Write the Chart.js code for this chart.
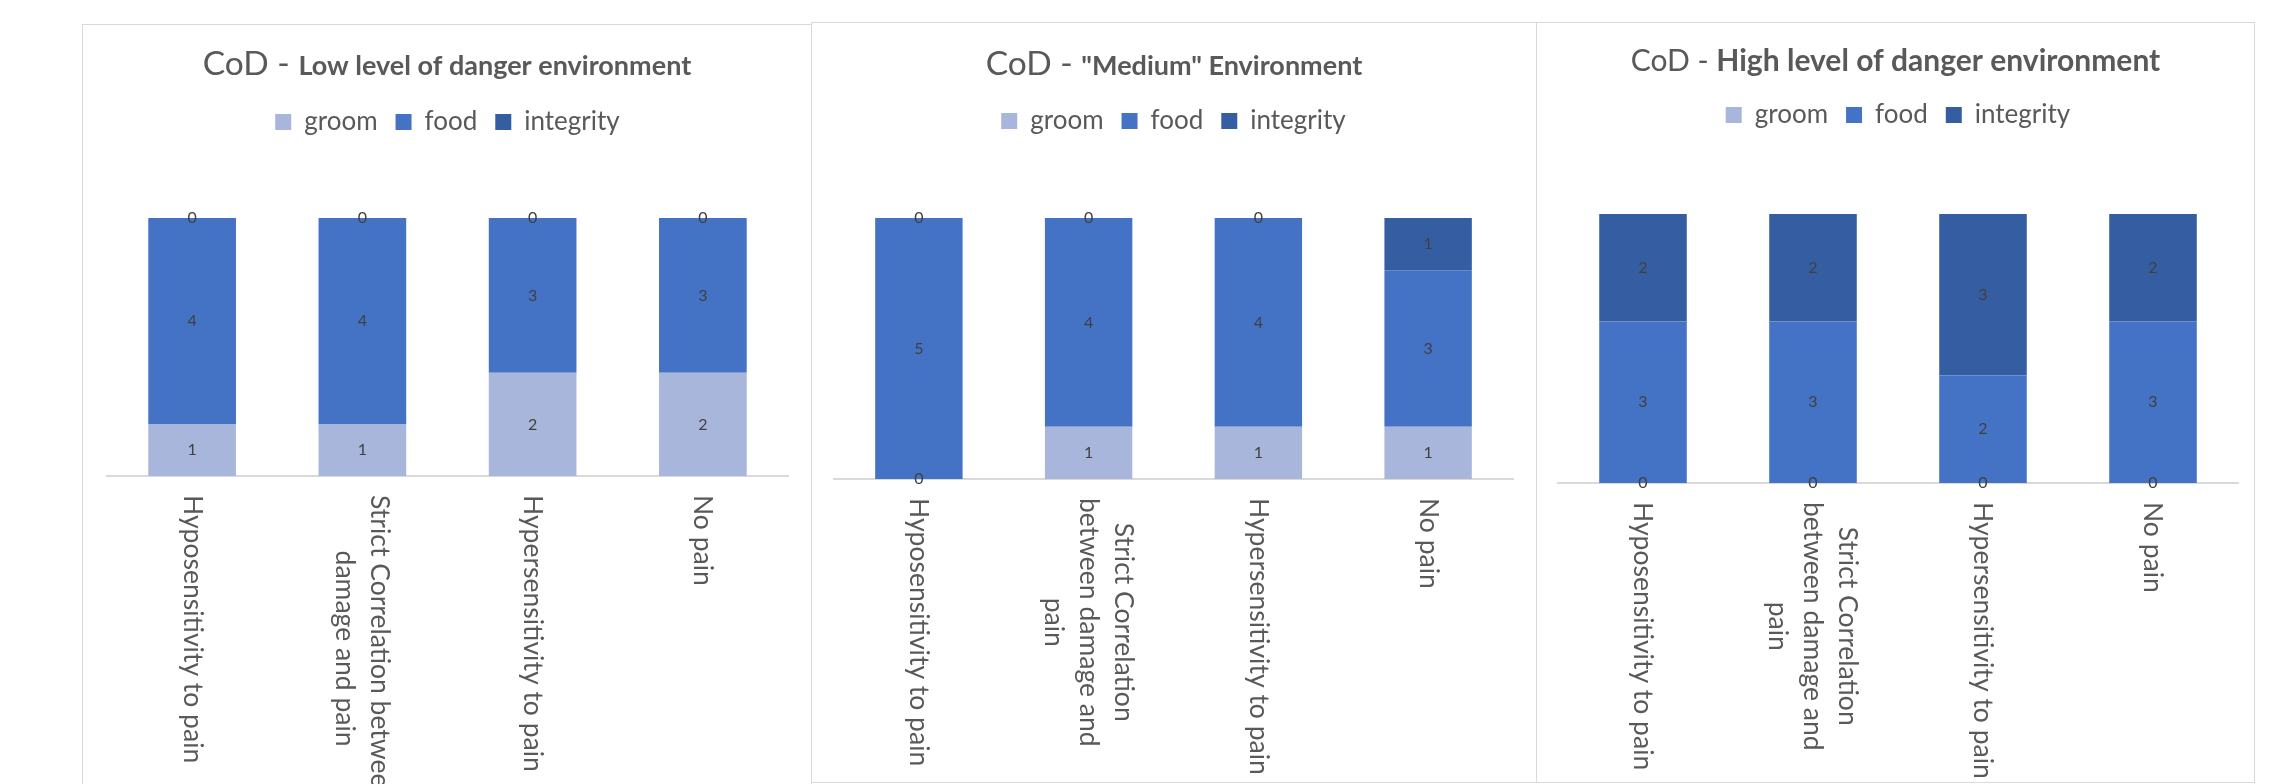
<!DOCTYPE html>
<html>
<head>
<meta charset="utf-8">
<script src="https://cdn.jsdelivr.net/npm/chart.js@4.4.1/dist/chart.umd.min.js"></script>
<style>
html, body { margin: 0; padding: 0; background: #fff; overflow: hidden; width: 2269px; height: 784px; }
.panel { position: absolute; border: 1px solid #d9d9d9; box-sizing: border-box; background: #fff; }
.panel canvas { display: block; }
</style>
</head>
<body>
<div class="panel" style="left:82px;top:24px;width:730px;height:790px"><canvas id="low" width="728" height="788"></canvas></div>
<div class="panel" style="left:811px;top:22px;width:726px;height:761px"><canvas id="medium" width="724" height="759"></canvas></div>
<div class="panel" style="left:1536px;top:22px;width:719px;height:761px"><canvas id="high" width="717" height="759"></canvas></div>
<script>
// categories (wrapped the way each chart wraps them)
const categoriesLow = [['Hyposensitivity to pain'], ['Strict Correlation between', 'damage and pain'], ['Hypersensitivity to pain'], ['No pain']];
const categoriesWrapped = [['Hyposensitivity to pain'], ['Strict Correlation', 'between damage and', 'pain'], ['Hypersensitivity to pain'], ['No pain']];

const seriesNames = ['groom', 'food', 'integrity'];
const seriesColors = ['#A9B6DB', '#4472C4', '#355EA2'];

// Low level of danger
const lowGroom = [1, 1, 2, 2];
const lowFood = [4, 4, 3, 3];
const lowIntegrity = [0, 0, 0, 0];

// "Medium"
const medGroom = [0, 1, 1, 1];
const medFood = [5, 4, 4, 3];
const medIntegrity = [0, 0, 0, 1];

// High level of danger
const highGroom = [0, 0, 0, 0];
const highFood = [3, 3, 2, 3];
const highIntegrity = [2, 2, 3, 2];

const yMax = 5;

Chart.defaults.font.family = 'Lato';
const textGrey = '#595959';

function makeChart(id, labels, values, cfg) {
    const ctx = document.getElementById(id).getContext('2d');

    // title with two font weights
    const titlePlugin = {
        id: 'mixedTitle',
        afterDraw(chart) {
            const c = chart.ctx;
            c.save();
            c.fillStyle = textGrey;
            c.textAlign = 'left';
            c.textBaseline = 'alphabetic';
            const widths = cfg.title.map(p => { c.font = p.font; return c.measureText(p.text).width; });
            let x = chart.width / 2 - widths.reduce((a, b) => a + b, 0) / 2;
            cfg.title.forEach((p, i) => {
                c.font = p.font;
                c.fillText(p.text, x, cfg.titleBaseline);
                x += widths[i];
            });
            c.restore();
        }
    };

    // value labels in the middle of each segment
    const valuePlugin = {
        id: 'values',
        afterDatasetsDraw(chart) {
            const c = chart.ctx;
            c.save();
            c.font = '16px Lato';
            c.fillStyle = '#404040';
            c.textAlign = 'center';
            c.textBaseline = 'middle';
            chart.data.datasets.forEach((ds, i) => {
                chart.getDatasetMeta(i).data.forEach((bar, j) => {
                    c.fillText(String(ds.data[j]), bar.x, (bar.y + bar.base) / 2);
                });
            });
            c.restore();
        }
    };

    // category labels turned 90deg clockwise, reading downwards
    const tickPlugin = {
        id: 'downTicks',
        afterDraw(chart) {
            const c = chart.ctx, xs = chart.scales.x;
            c.save();
            c.font = '26.5px Lato';
            c.fillStyle = textGrey;
            c.textAlign = 'center';
            c.textBaseline = 'middle';
            labels.forEach((lines, i) => {
                const w = Math.max(...lines.map(l => c.measureText(l).width));
                c.save();
                c.translate(xs.getPixelForValue(i), chart.chartArea.bottom + 19);
                c.rotate(Math.PI / 2);
                lines.forEach((l, k) => c.fillText(l, w / 2, (k - (lines.length - 1) / 2) * 35));
                c.restore();
            });
            c.restore();
        }
    };

    return new Chart(ctx, {
        type: 'bar',
        data: {
            labels: labels,
            datasets: seriesNames.map((name, i) => ({
                label: name,
                data: values[i],
                backgroundColor: seriesColors[i],
                borderWidth: 0,
                categoryPercentage: 1,
                barPercentage: 0.515
            }))
        },
        options: {
            responsive: false,
            animation: false,
            layout: { padding: { top: cfg.legendTop, left: cfg.left, right: cfg.right, bottom: 0 } },
            plugins: {
                legend: {
                    position: 'top',
                    labels: { boxWidth: 16, boxHeight: 16, padding: 18, color: textGrey, font: { size: 26 } }
                },
                // empty title used only as the gap between legend and bars
                title: { display: true, text: '', weight: 500, font: { size: 10, lineHeight: 1 }, padding: { top: 0, bottom: cfg.gap - 10 } },
                tooltip: { enabled: false }
            },
            scales: {
                x: {
                    stacked: true,
                    grid: { display: false },
                    border: { display: true, color: '#D9D9D9', width: 2 },
                    ticks: { display: false },
                    afterFit(scale) { scale.height = cfg.axisHeight; }
                },
                y: { stacked: true, display: false, min: 0, max: yMax }
            }
        },
        plugins: [titlePlugin, valuePlugin, tickPlugin]
    });
}

makeChart('low', categoriesLow, [lowGroom, lowFood, lowIntegrity], {
    title: [{ text: 'CoD - ', font: '33.5px Lato' }, { text: 'Low level of danger environment', font: 'bold 27px Lato' }],
    titleBaseline: 50, legendTop: 66, gap: 73, left: 24, right: 23, axisHeight: 337
});

makeChart('medium', categoriesWrapped, [medGroom, medFood, medIntegrity], {
    title: [{ text: 'CoD - ', font: '33.5px Lato' }, { text: '"Medium" Environment', font: 'bold 27px Lato' }],
    titleBaseline: 52, legendTop: 67, gap: 74, left: 22, right: 23, axisHeight: 303
});

makeChart('high', categoriesWrapped, [highGroom, highFood, highIntegrity], {
    title: [{ text: 'CoD - ', font: '30px Lato' }, { text: 'High level of danger environment', font: 'bold 30px Lato' }],
    titleBaseline: 48, legendTop: 61, gap: 76, left: 21, right: 16, axisHeight: 299
});
</script>
</body>
</html>
